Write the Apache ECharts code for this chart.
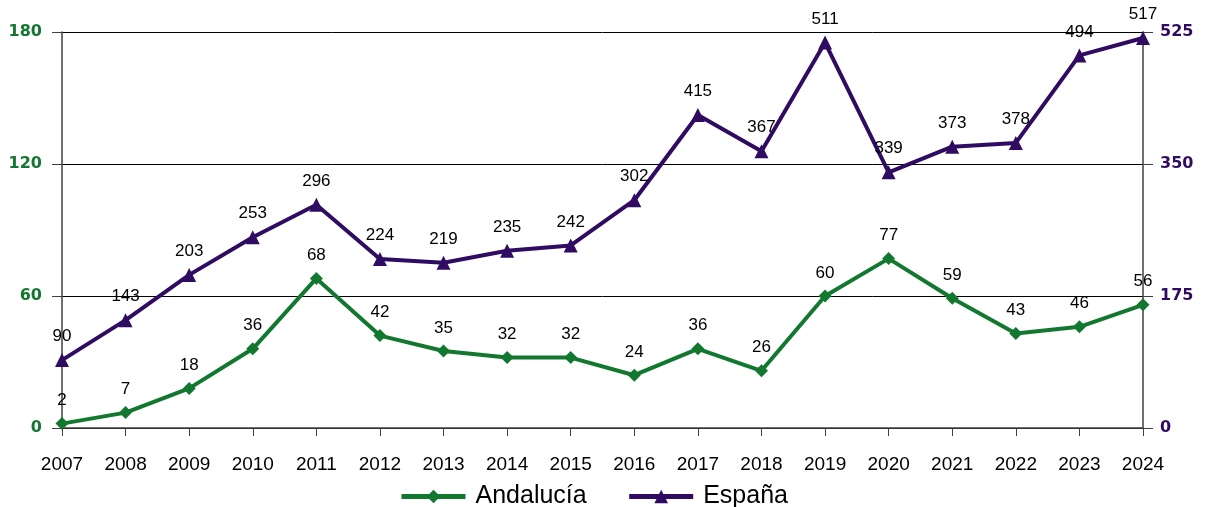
<!DOCTYPE html>
<html>
<head>
<meta charset="utf-8">
<script src="https://cdn.jsdelivr.net/npm/echarts@6/dist/echarts.min.js"></script>
<style>html,body{margin:0;padding:0;background:#fff}#c{width:1205px;height:507px}</style>
</head>
<body>
<div id="c"></div>
<script>
const years = ['2007','2008','2009','2010','2011','2012','2013','2014','2015','2016','2017','2018','2019','2020','2021','2022','2023','2024'];
const andalucia = [2,7,18,36,68,42,35,32,32,24,36,26,60,77,59,43,46,56];
const espana = [90,143,203,253,296,224,219,235,242,302,415,367,511,339,373,378,494,517];
const leftTicks = {min:0, max:180, interval:60};
const rightTicks = {min:0, max:525, interval:175};

const green = '#13782f';
const purple = '#300b62';
const chart = echarts.init(document.getElementById('c'));
const labelStyle = {show:true, position:'top', distance:8, color:'#000', fontSize:17, fontFamily:'Liberation Sans, Arial, sans-serif'};
chart.setOption({
  animation:false,
  grid:{left:62, right:62, top:32, bottom:79},
  legend:{
    top:479, left:394, itemWidth:64, itemHeight:17, itemGap:40,
    lineStyle:{width:5},
    textStyle:{fontSize:25, color:'#000', padding:[0,0,0,5], fontFamily:'Liberation Sans, Arial, sans-serif'},
    data:['Andalucía','España']
  },
  xAxis:{
    type:'category', data:years, boundaryGap:false,
    axisLine:{lineStyle:{color:'#404040', width:1.5}},
    axisTick:{show:true, length:8, lineStyle:{color:'#404040'}},
    axisLabel:{margin:27, color:'#000', fontSize:19, fontFamily:'Liberation Sans, Arial, sans-serif'},
    splitLine:{show:false}
  },
  yAxis:[{
    type:'value', min:leftTicks.min, max:leftTicks.max, interval:leftTicks.interval, position:'left',
    axisLine:{show:true, lineStyle:{color:'#404040', width:1.5}},
    axisTick:{show:true, length:10, lineStyle:{color:'#404040'}},
    axisLabel:{margin:20, color:green, fontWeight:'bold', fontSize:16, fontFamily:'DejaVu Sans, Verdana, sans-serif'},
    splitLine:{show:true, lineStyle:{color:'#000', width:1}}
  },{
    type:'value', min:rightTicks.min, max:rightTicks.max, interval:rightTicks.interval, position:'right',
    axisLine:{show:true, lineStyle:{color:'#404040', width:1.5}},
    axisTick:{show:true, length:10, lineStyle:{color:'#404040'}},
    axisLabel:{margin:17, color:purple, fontWeight:'bold', fontSize:16, fontFamily:'DejaVu Sans, Verdana, sans-serif'},
    splitLine:{show:false}
  }],
  series:[{
    name:'Andalucía', type:'line', yAxisIndex:0, data:andalucia,
    symbol:'diamond', symbolSize:13, showAllSymbol:true,
    lineStyle:{color:green, width:4}, itemStyle:{color:green},
    label:labelStyle
  },{
    name:'España', type:'line', yAxisIndex:1, data:espana,
    symbol:'triangle', symbolSize:14, showAllSymbol:true,
    lineStyle:{color:purple, width:4}, itemStyle:{color:purple},
    label:labelStyle
  }]
});
</script>
</body>
</html>
